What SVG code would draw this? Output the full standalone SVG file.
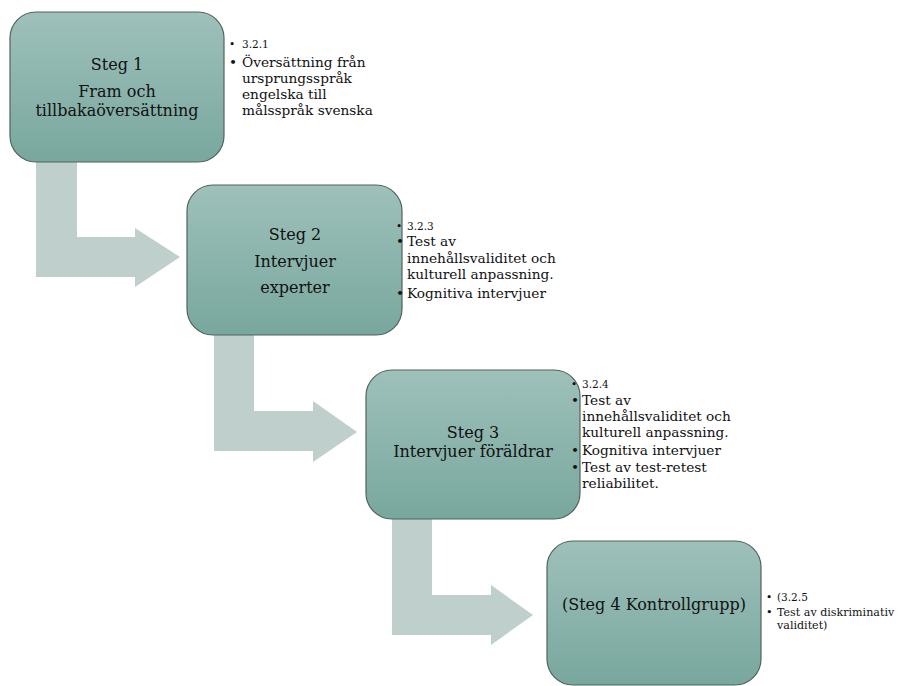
<svg xmlns="http://www.w3.org/2000/svg" width="900" height="686" viewBox="0 0 900 686">
<defs>
<linearGradient id="g" x1="0" y1="0" x2="0" y2="1">
<stop offset="0" stop-color="#9ec1ba"/>
<stop offset="1" stop-color="#78a79e"/>
</linearGradient>
<style>
.box{fill:url(#g);stroke:#53625f;stroke-width:1.2}
.arr{fill:#bfd0cc;stroke:none}
.t{font-family:"DejaVu Serif","Liberation Serif",serif;fill:#111;text-anchor:middle;font-size:16px}
.b{font-family:"DejaVu Serif","Liberation Serif",serif;fill:#111;font-size:13.7px}
.s{font-size:10.5px}
</style>
</defs>
<rect width="900" height="686" fill="#fff"/>
<g id="connectors">
<path class="arr" d="M36,161 H77 V237 H135 V228 L180,257 L135,287 V277 H36 Z"/>
<path class="arr" d="M214,335 H254 V411 H313 V401 L357,432 L313,462 V451 H214 Z"/>
<path class="arr" d="M392,519 H432 V595 H491 V585 L533,615 L491,645 V635 H392 Z"/>
</g>
<g id="step1">
<rect class="box" x="10" y="12" width="214" height="150" rx="26"/>
<text class="t" x="117" y="70">Steg 1</text>
<text class="t" x="117" y="97">Fram och</text>
<text class="t" x="117" y="115.8">tillbakaöversättning</text>
<g class="b">
<text x="229" y="48" class="s">•</text><text x="242" y="48" class="s">3.2.1</text>
<text x="229" y="67">•</text><text x="242" y="67">Översättning från</text>
<text x="242" y="83">ursprungsspråk</text>
<text x="242" y="99">engelska till</text>
<text x="242" y="115">målsspråk svenska</text>
</g>
</g>
<g id="step2">
<rect class="box" x="187" y="185" width="215" height="150" rx="26"/>
<text class="t" x="295" y="240">Steg 2</text>
<text class="t" x="295" y="267">Intervjuer</text>
<text class="t" x="295" y="293">experter</text>
<g class="b">
<text x="396" y="230" class="s">•</text><text x="407" y="230" class="s">3.2.3</text>
<text x="396" y="246">•</text><text x="407" y="246">Test av</text>
<text x="407" y="263">innehållsvaliditet och</text>
<text x="407" y="279">kulturell anpassning.</text>
<text x="396" y="298">•</text><text x="407" y="298">Kognitiva intervjuer</text>
</g>
</g>
<g id="step3">
<rect class="box" x="366" y="370" width="214" height="149" rx="26"/>
<text class="t" x="473" y="438">Steg 3</text>
<text class="t" x="473" y="457">Intervjuer föräldrar</text>
<g class="b">
<text x="571" y="388" class="s">•</text><text x="582" y="388" class="s">3.2.4</text>
<text x="571" y="405">•</text><text x="582" y="405">Test av</text>
<text x="582" y="421">innehållsvaliditet och</text>
<text x="582" y="437">kulturell anpassning.</text>
<text x="571" y="455">•</text><text x="582" y="455">Kognitiva intervjuer</text>
<text x="571" y="472">•</text><text x="582" y="472">Test av test-retest</text>
<text x="582" y="488">reliabilitet.</text>
</g>
</g>
<g id="step4">
<rect class="box" x="547" y="541" width="214" height="144" rx="26"/>
<text class="t" x="654" y="610">(Steg 4 Kontrollgrupp)</text>
<g class="b" style="font-size:11.1px">
<text x="766" y="601" class="s">•</text><text x="777" y="601" class="s">(3.2.5</text>
<text x="766" y="616">•</text><text x="777" y="616">Test av diskriminativ</text>
<text x="777" y="629">validitet)</text>
</g>
</g>
</svg>
